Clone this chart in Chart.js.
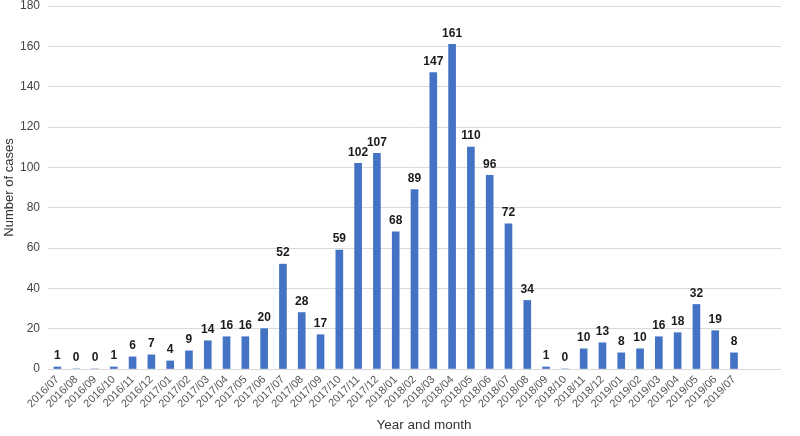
<!DOCTYPE html>
<html>
<head>
<meta charset="utf-8">
<script src="https://cdn.jsdelivr.net/npm/chart.js@4/dist/chart.umd.min.js"></script>
<style>
html,body{margin:0;padding:0;background:#fff;}
#wrap{width:800px;height:436px;}
</style>
</head>
<body>
<div id="wrap"><canvas id="c" width="800" height="436"></canvas></div>
<script>
const months = ["2016/07","2016/08","2016/09","2016/10","2016/11","2016/12",
"2017/01","2017/02","2017/03","2017/04","2017/05","2017/06","2017/07","2017/08","2017/09","2017/10","2017/11","2017/12",
"2018/01","2018/02","2018/03","2018/04","2018/05","2018/06","2018/07","2018/08","2018/09","2018/10","2018/11","2018/12",
"2019/01","2019/02","2019/03","2019/04","2019/05","2019/06","2019/07","",""];
const cases = [1,0,0,1,6,7,4,9,14,16,16,20,52,28,17,59,102,107,68,89,147,161,110,96,72,34,1,0,10,13,8,10,16,18,32,19,8,null,null];
const yTicks = [0,20,40,60,80,100,120,140,160,180];
const xTitle = 'Year and month';
const yTitle = 'Number of cases';

const FONT = "'Liberation Sans', Arial, sans-serif";

const labelPlugin = {
  id: 'valueLabels',
  afterDatasetsDraw(chart) {
    const ctx = chart.ctx;
    const meta = chart.getDatasetMeta(0);
    ctx.save();
    ctx.font = "bold 12px " + FONT;
    ctx.fillStyle = "#1a1a1a";
    ctx.textAlign = "center";
    ctx.textBaseline = "bottom";
    meta.data.forEach((bar, i) => {
      const v = cases[i];
      if (v === null || v === undefined) return;
      ctx.fillText(String(v), bar.x, bar.y - 5);
    });
    // x axis title, centred as in the reference
    ctx.font = "13.5px " + FONT;
    ctx.fillStyle = "#333";
    ctx.textBaseline = "middle";
    ctx.fillText(xTitle, (chart.chartArea.left + chart.width) / 2, 425);
    ctx.restore();
  }
};

new Chart(document.getElementById('c'), {
  type: 'bar',
  data: {
    labels: months,
    datasets: [{
      data: cases,
      backgroundColor: '#4472C4',
      barThickness: 7
    }]
  },
  options: {
    responsive: false,
    animation: false,
    layout: { padding: { top: 6, right: 19, left: 0, bottom: 0 } },
    plugins: { legend: { display: false }, tooltip: { enabled: false } },
    scales: {
      x: {
        grid: { display: false, drawTicks: false },
        border: { display: false },
        ticks: {
          font: { family: FONT, size: 11 },
          color: '#555',
          minRotation: 45, maxRotation: 45,
          autoSkip: false,
          padding: 4
        },
        title: { display: false },
        afterFit(scale) { scale.height = 67; scale.paddingLeft = 0; scale.paddingRight = 0; }
      },
      y: {
        min: 0, max: 180,
        afterBuildTicks(scale) { scale.ticks = yTicks.map(v => ({ value: v })); },
        grid: { color: '#d9d9d9', lineWidth: 1, drawTicks: false },
        border: { display: false },
        ticks: {
          font: { family: FONT, size: 12 },
          color: '#444',
          padding: 8
        },
        title: {
          display: true, text: yTitle,
          font: { family: FONT, size: 13 },
          color: '#333',
          padding: { top: 2, bottom: 2 }
        },
        afterFit(scale) { scale.width = 48; scale.paddingTop = 0; scale.paddingBottom = 0; }
      }
    }
  },
  plugins: [labelPlugin]
});
</script>
</body>
</html>
